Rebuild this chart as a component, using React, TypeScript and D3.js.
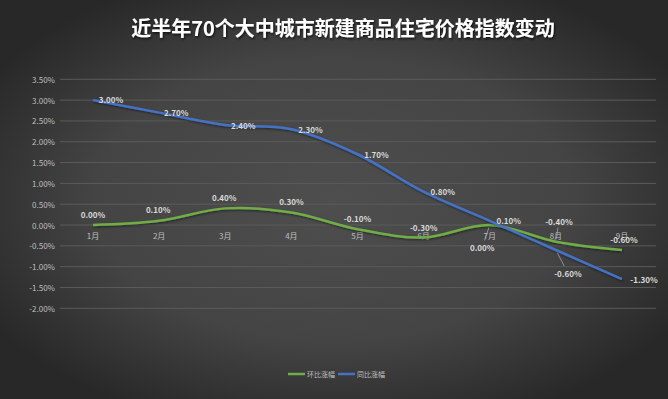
import React from "react";
import * as d3 from "d3";

const months = ["1月", "2月", "3月", "4月", "5月", "6月", "7月", "8月", "9月"];
const momValues = [0.0, 0.1, 0.4, 0.3, -0.1, -0.3, 0.0, -0.4, -0.6]; // 环比涨幅
const yoyValues = [3.0, 2.7, 2.4, 2.3, 1.7, 0.8, 0.1, -0.6, -1.3]; // 同比涨幅
const yTicks = [3.5, 3.0, 2.5, 2.0, 1.5, 1.0, 0.5, 0.0, -0.5, -1.0, -1.5, -2.0];
const seriesNames = ["环比涨幅", "同比涨幅"];
const title = "近半年70个大中城市新建商品住宅价格指数变动";

// label layout offsets (dx, dy) relative to point
const yoyLabelOffsets = [
  [18, -1], [17, 0], [18, 0], [19, 0], [19, 0], [19, 0], [19, 0], [12, 23], [22, 0],
];
const momLabelOffsets = [
  [0, -11], [-1, -11], [-1, -11], [0, -11], [0, -10.5], [0, -10.5], [-7.5, 22], [3, -20], [2, -11],
];
// leader lines: index -> true
const yoyLeader = [false, false, false, false, false, false, false, true, false];
const momLeader = [false, false, false, false, false, false, true, true, false];

const W = 668;
const H = 399;
const FONT = "'Noto Sans CJK SC', 'Noto Sans', sans-serif";
const GREEN = "#70AD47";
const BLUE = "#4472C4";

export default function App() {
  const x = d3.scalePoint<string>().domain(months).range([93, 622]);
  const y = d3.scaleLinear().domain([-2, 3.5]).range([308.3, 79.3]);
  const line = d3
    .line<number>()
    .x((_, i) => x(months[i]) as number)
    .y((d) => y(d))
    .curve(d3.curveCatmullRom.alpha(0));
  const fmt = (v: number) => v.toFixed(2) + "%";

  const renderLabels = (
    vals: number[],
    offs: number[][],
    leaders: boolean[],
    key: string
  ) =>
    vals.map((v, i) => {
      const px = x(months[i]) as number;
      const py = y(v);
      const lx = px + offs[i][0];
      const ly = py + offs[i][1];
      return (
        <g key={key + i}>
          {leaders[i] && (
            <line
              x1={px + (lx - px) * 0.12}
              y1={py + (ly - py) * 0.12}
              x2={lx + (px - lx) * 0.3}
              y2={ly + (py - ly) * 0.3}
              stroke="#a6a6a6"
              strokeWidth={0.8}
            />
          )}
          <text
            x={lx}
            y={ly}
            textAnchor="middle"
            dominantBaseline="central"
            fontSize={8}
            fontWeight="bold"
            fill="#d9d9d9"
            fontFamily={FONT}
          >
            {fmt(v)}
          </text>
        </g>
      );
    });

  return (
    <svg
      width={W}
      height={H}
      style={{ position: "absolute", left: 0, top: 0 }}
      xmlns="http://www.w3.org/2000/svg"
    >
      <defs>
        <radialGradient id="bg" cx="50%" cy="50%" r="60%" fx="50%" fy="50%">
          <stop offset="0%" stopColor="#4e4e4e" />
          <stop offset="60%" stopColor="#444444" />
          <stop offset="100%" stopColor="#282828" />
        </radialGradient>
        <filter id="tshadow" x="-10%" y="-30%" width="120%" height="160%">
          <feDropShadow dx="1" dy="1.5" stdDeviation="1" floodColor="#000" floodOpacity="0.7" />
        </filter>
        <filter id="lshadow" x="-5%" y="-20%" width="110%" height="140%">
          <feDropShadow dx="0.8" dy="1.2" stdDeviation="0.8" floodColor="#000" floodOpacity="0.5" />
        </filter>
      </defs>
      <rect x={0} y={0} width={W} height={H} fill="url(#bg)" />
      <text
        x={343}
        y={27}
        textAnchor="middle"
        dominantBaseline="central"
        fontSize={20}
        fontWeight="bold"
        fill="#ffffff"
        fontFamily={FONT}
        filter="url(#tshadow)"
      >
        {title}
      </text>
      {yTicks.map((t) => (
        <g key={"t" + t}>
          <line x1={60} x2={656} y1={y(t)} y2={y(t)} stroke="#5b5b5b" strokeWidth={1} />
          <text
            x={55}
            y={y(t)}
            textAnchor="end"
            dominantBaseline="central"
            fontSize={8}
            fill="#bfbfbf"
            fontFamily={FONT}
          >
            {t.toFixed(2) + "%"}
          </text>
        </g>
      ))}
      {months.map((m) => (
        <text
          key={m}
          x={x(m) as number}
          y={y(0) + 10.5}
          textAnchor="middle"
          dominantBaseline="central"
          fontSize={8}
          fill="#bfbfbf"
          fontFamily={FONT}
        >
          {m}
        </text>
      ))}
      <path d={line(momValues) || ""} fill="none" stroke={GREEN} strokeWidth={2.5} filter="url(#lshadow)" />
      <path d={line(yoyValues) || ""} fill="none" stroke={BLUE} strokeWidth={2.5} filter="url(#lshadow)" />
      {renderLabels(momValues, momLabelOffsets, momLeader, "m")}
      {renderLabels(yoyValues, yoyLabelOffsets, yoyLeader, "y")}
      <g>
        <line x1={288} x2={305} y1={374} y2={374} stroke={GREEN} strokeWidth={2.5} />
        <text x={307} y={374} dominantBaseline="central" fontSize={7} fill="#bfbfbf" fontFamily={FONT}>
          {seriesNames[0]}
        </text>
        <line x1={338} x2={355} y1={374} y2={374} stroke={BLUE} strokeWidth={2.5} />
        <text x={357} y={374} dominantBaseline="central" fontSize={7} fill="#bfbfbf" fontFamily={FONT}>
          {seriesNames[1]}
        </text>
      </g>
    </svg>
  );
}
